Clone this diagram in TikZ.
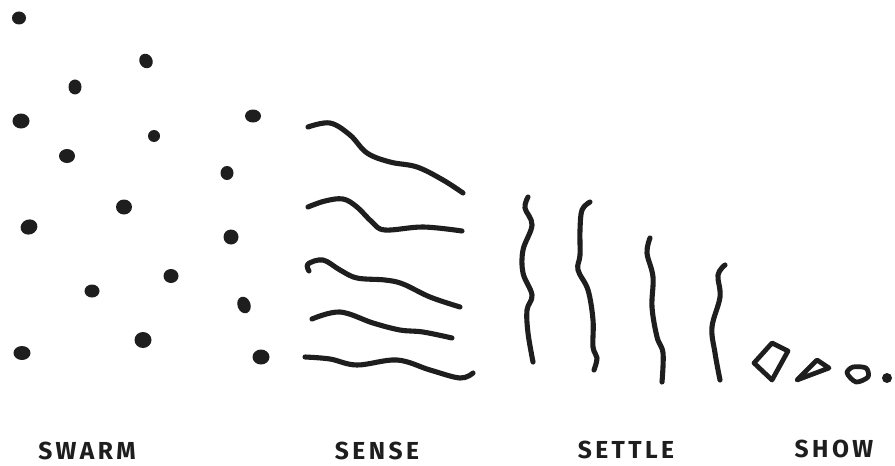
\documentclass[tikz,border=0pt]{standalone}
\usepackage{fontspec}
\newfontfamily\handfont[LetterSpace=14]{Fira Sans}
\definecolor{ink}{HTML}{1E1E1E}
\begin{document}
\begin{tikzpicture}[x=0.02cm,y=-0.02cm,
  stroke/.style={draw=ink,line width=2.9pt,line cap=round,line join=round},
  label/.style={font=\handfont\bfseries\fontsize{14}{16}\selectfont,text=ink,inner sep=0pt,anchor=base}]
\fill[white] (0,0) rectangle (895,466);
\useasboundingbox (0,0) rectangle (895,466);
% SWARM dots
\foreach \x/\y/\a/\b/\r in {19/18/7/6.5/0, 146/61/6.5/7.5/30, 75/87/6.5/7.5/0, 21/121/8.5/7.5/0,
  253/116/8/6.5/0, 154/136/6/6/0, 67/156/8/7/0, 227/173/6.5/7/0,
  124/207/8/7.5/0, 29/227/8.5/7.5/20, 231/237/7.5/7.5/0, 171/276/7.5/7/0,
  92/291/7.5/6.5/0, 244/305/6.5/8.5/20, 143/340/8.5/8/0, 22/353/8.5/7/0, 261/357/8.5/7.5/0}
  \fill[ink,rotate around={\r:(\x,\y)}] (\x,\y) ellipse[x radius=\a,y radius=\b];
% SENSE lines
\draw[stroke] plot[smooth,tension=0.6] coordinates {(308,127) (330,123) (350,135) (367,153) (390,162) (417,167) (443,180) (463,193)};
\draw[stroke] plot[smooth,tension=0.6] coordinates {(308,207) (325,201) (343,199) (357,207) (372,222) (385,230) (423,227) (462,231)};
\draw[stroke] plot[smooth,tension=0.6] coordinates {(309,271) (308,264) (323,260) (340,270) (357,278) (385,280) (403,284) (430,297) (460,307)};
\draw[stroke] plot[smooth,tension=0.6] coordinates {(312,319) (340,312) (373,323) (400,330) (423,332) (452,338)};
\draw[stroke] plot[smooth,tension=0.6] coordinates {(305,357) (330,359) (357,365) (397,360) (430,370) (460,378) (473,373)};
% SETTLE lines
\draw[stroke] plot[smooth,tension=0.6] coordinates {(528,197) (525,208) (532,225) (523,250) (523,273) (532,295) (527,310) (528,333) (533,362)};
\draw[stroke] plot[smooth,tension=0.6] coordinates {(590,202) (582,210) (580,230) (580,255) (578,270) (588,290) (593,320) (593,347) (597,358) (594,370)};
\draw[stroke] plot[smooth,tension=0.6] coordinates {(650,238) (647,253) (653,277) (652,307) (657,337) (663,353) (662,382)};
\draw[stroke] plot[smooth,tension=0.6] coordinates {(725,265) (718,275) (720,297) (712,327) (715,353) (720,380)};
% SHOW shapes
\draw[stroke,line width=2.7pt] (772,343) -- (788,351) -- (772,380) -- (754,363) -- cycle;
\draw[stroke,line width=2.7pt] (817,360) -- (829,368) -- (797,380) -- cycle;
\draw[stroke,line width=2.7pt] plot[smooth cycle,tension=0.5] coordinates {(847,373) (853,367) (866,368) (868,377) (856,382)};
\fill[ink] (887,378) circle[radius=5];
% labels
\node[label] (swarm) at (87,459) {SWARM};
\node[label] (sense) at (377,459) {SENSE};
\node[label] (settle) at (626,458) {SETTLE};
\node[label] (show) at (834,457) {SHOW};
\end{tikzpicture}
\end{document}
